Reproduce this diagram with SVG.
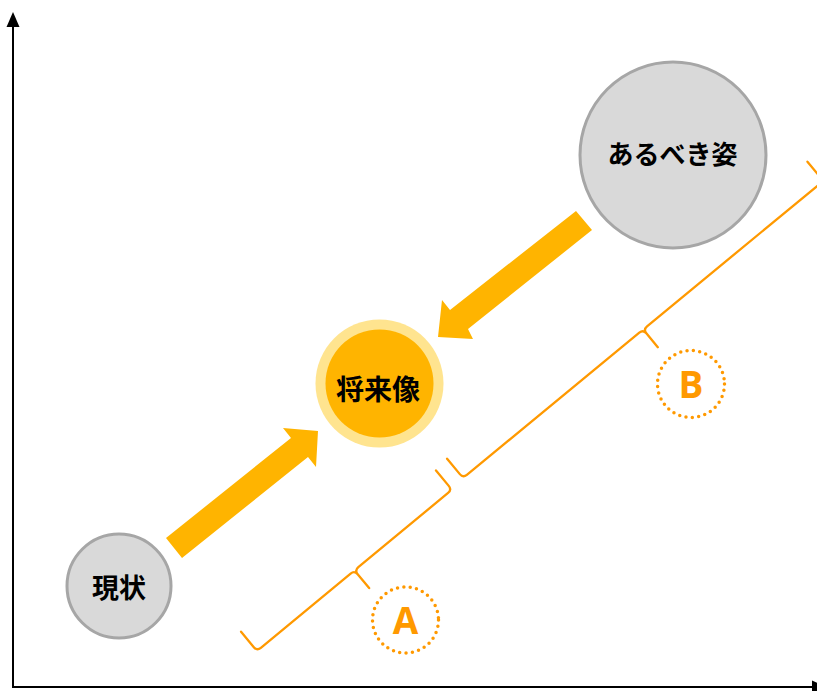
<svg xmlns="http://www.w3.org/2000/svg" width="817" height="691" viewBox="0 0 817 691">
  <style>
    .gray { fill: #d9d9d9; stroke: #a6a6a6; stroke-width: 3; }
    .lbl { font-family: "Noto Sans CJK JP", "Noto Sans", sans-serif; font-weight: 700; fill: #000; text-anchor: middle; }
    .brace { fill: none; stroke: #ff9900; stroke-width: 2.3; stroke-linejoin: round; stroke-linecap: round; }
    .dot { fill: none; stroke: #ff9900; stroke-width: 3.5; stroke-dasharray: 0 6.4; stroke-linecap: round; }
    .letter { font-family: "Open Sans", "Liberation Sans", sans-serif; font-weight: 700; fill: #ff9900; text-anchor: middle; font-size: 37px; }
    .arrow { fill: #ffb400; }
    .axis { stroke: #000; stroke-width: 2; fill: none; }
  </style>
  <rect width="817" height="691" fill="#fff"/>

  <g id="axes">
    <line class="axis" x1="13" y1="687" x2="13" y2="22"/>
    <polygon points="13,12 6.5,27 19.5,27" fill="#000"/>
    <line class="axis" x1="12" y1="687" x2="815" y2="687"/>
    <polygon points="826,687 812,680.5 812,693.5" fill="#000"/>
  </g>

  <g id="connectors">
    <polygon class="arrow" points="166,538 291,438 283,428 318,431 316,467 308,457 182,558"/>
    <polygon class="arrow" points="576,211 592,230 468,329 473,339 438,337 442,300 450,310"/>
    <path class="brace" transform="translate(257,651) rotate(-39.6)" d="M0,-25 L0,-5 Q0,0 5,0 L121.5,0 Q126.5,0 126.5,5 L126.5,23 M126.5,5 Q126.5,0 131.5,0 L248,0 Q253,0 253,-5 L253,-25"/>
    <path class="brace" transform="translate(463,478) rotate(-39.5)" d="M0,-25 L0,-5 Q0,0 5,0 L228.5,0 Q233.5,0 233.5,5 L233.5,23 M233.5,5 Q233.5,0 238.5,0 L462,0 Q467,0 467,-5 L467,-25"/>
  </g>

  <g id="genjo">
    <circle class="gray" cx="119" cy="586" r="52"/>
    <text class="lbl" x="119" y="598" font-size="27">現状</text>
  </g>

  <g id="shoraizo">
    <circle cx="379.5" cy="383.5" r="64" fill="#ffe48f"/>
    <circle cx="379.5" cy="383.5" r="54" fill="#ffb400"/>
    <text class="lbl" x="378" y="399.5" font-size="28">将来像</text>
  </g>

  <g id="arubeki">
    <circle class="gray" cx="673" cy="155" r="93"/>
    <text class="lbl" x="672.5" y="164" font-size="26">あるべき姿</text>
  </g>

  <g id="label-A">
    <circle class="dot" cx="405.5" cy="620" r="33"/>
    <text class="letter" x="405.5" y="633.5">A</text>
  </g>

  <g id="label-B">
    <circle class="dot" cx="691" cy="384" r="33.5"/>
    <text class="letter" x="691" y="397.5">B</text>
  </g>
</svg>
